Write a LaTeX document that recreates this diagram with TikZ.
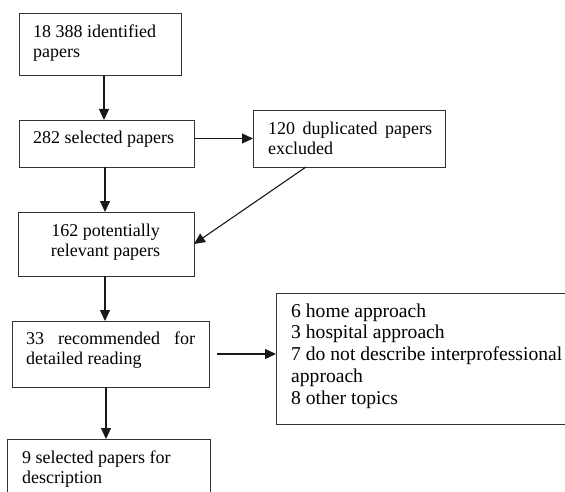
\documentclass[tikz,border=0pt]{standalone}
\usepackage{fontspec}
\setmainfont{Liberation Serif}
\usetikzlibrary{arrows.meta,calc}
\begin{document}
\begin{tikzpicture}[x=1pt,y=-1pt,
  box/.style={draw=black!80,line width=0.9pt,anchor=north west,inner sep=0pt,outer sep=0pt},
  txt/.style={anchor=base west,inner sep=0pt,align=left,font=\fontsize{18}{20}\selectfont},
  bigtxt/.style={anchor=base west,inner sep=0pt,align=left,font=\fontsize{19.6}{21.7}\selectfont},
  arr/.style={draw=black!90,line width=1.1pt,-{Triangle[length=11pt,width=10pt]}}]
\useasboundingbox[fill=white] (0,0) rectangle (565,492);
% boxes
\node[box,minimum width=162,minimum height=62] (b1) at (19,13) {};
\node[box,minimum width=175,minimum height=47] (b2) at (19,120) {};
\node[box,minimum width=192,minimum height=57] (b3) at (253,110) {};
\node[box,minimum width=176,minimum height=64] (b4) at (18,212) {};
\node[box,minimum width=197,minimum height=66] (b5) at (12,321) {};
\node[box,minimum width=203,minimum height=70] (b6) at (7,439) {};
\node[box,minimum width=300,minimum height=131] (b7) at (276,293) {};
% texts (anchor at baseline of last line)
\node[txt] (t1) at (33,58) {18 388 identified\\papers};
\node[txt] (t2) at (33,144) {282 selected papers};
\node[txt] (t3) at (268,154) {\hbox to 164pt{120\hfill duplicated\hfill papers}\\excluded};
\node[txt,anchor=base,align=center] (t4) at (105.5,256) {162 potentially\\relevant papers};
\node[txt] (t5) at (26,364) {\hbox to 169pt{33\hfill recommended\hfill for}\\detailed reading};
\node[txt] (t6) at (22,483) {9 selected papers for\\description};
\node[bigtxt] (t7) at (291,404) {6 home approach\\3 hospital approach\\7 do not describe interprofessional\\approach\\8 other topics};
% connectors
\coordinate (xa) at (104,0);
\coordinate (xb) at (105,0);
\coordinate (xc) at (106,0);
\draw[arr] (b1.south -| xa) -- (xa |- b2.north);
\draw[arr] (b2.east |- b3.west) -- (b3.west);
\draw[arr] (b2.south -| xb) -- (xb |- b4.north);
\draw[arr] ($(b3.south west)!0.276!(b3.south east)$) -- (b4.east);
\draw[arr] (b4.south -| xb) -- (xb |- b5.north);
\draw[arr] ([xshift=8pt]b5.east) -- (b7.west |- b5.east);
\draw[arr] (b5.south -| xc) -- (xc |- b6.north);
\end{tikzpicture}
\end{document}
